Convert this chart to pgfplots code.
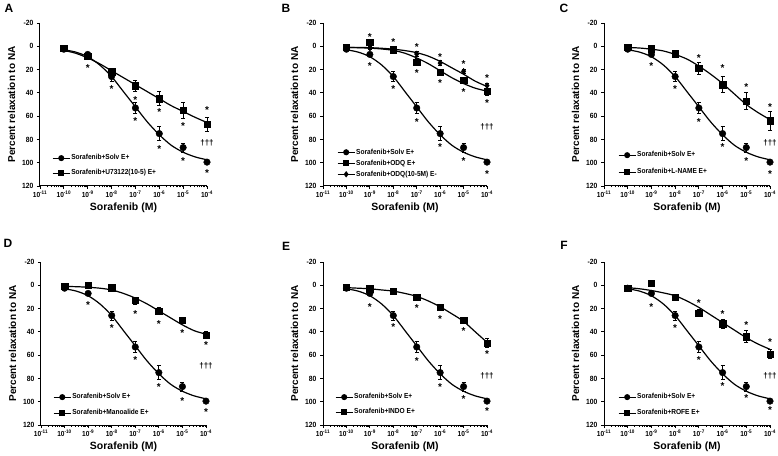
\documentclass[border=0pt]{standalone}
\usepackage{fontspec}
\setmainfont{Liberation Sans}
\newfontfamily\cf[FakeStretch=0.9]{Liberation Sans}
\usepackage{pgfplots}
\usepackage{pgfplotstable}
\pgfplotsset{compat=1.18}

% ---------- data ----------
\pgfplotstableread{
x y e
1e-10 2.5 1
1e-9 7 2
1e-8 26 4
1e-7 53 5
1e-6 75 6
1e-5 87 4
1e-4 99.5 1.5
}\solv
\pgfplotstableread{
x y
1e-10 3
3.16e-10 5
1e-9 9
3.16e-9 16
1e-8 26
3.16e-8 39
1e-7 52
3.16e-7 65
1e-6 76
3.16e-6 85
1e-5 91
3.16e-5 95
1e-4 97.5
}\solvfit
\pgfplotstableread{
x y e
1e-10 1.5 1
1e-9 8.5 1.5
1e-8 22 3
1e-7 34 5
1e-6 45 6
1e-5 55 7
1e-4 67 6
}\uA
\pgfplotstableread{
x y
1e-10 3.5
3.16e-10 6
1e-9 10
3.16e-9 15
1e-8 21
3.16e-8 27
1e-7 33
3.16e-7 39
1e-6 45
3.16e-6 51
1e-5 56
3.16e-5 61
1e-4 65.5
}\uAfit
\pgfplotstableread{
x y e
1e-10 0.6 1
1e-9 -3.4 1.5
1e-8 2.9 1.5
1e-7 13.8 3
1e-6 22.4 2.5
1e-5 29.3 2.5
1e-4 38.8 3
}\odq
\pgfplotstableread{
x y
1e-10 1
3.16e-10 1.2
1e-9 1.6
3.16e-9 2.3
1e-8 3.5
3.16e-8 6
1e-7 10
3.16e-7 15
1e-6 21
3.16e-6 27
1e-5 32
3.16e-5 36
1e-4 38.5
}\odqfit
\pgfplotstableread{
x y e
1e-10 1 1
1e-9 1.5 1
1e-8 3 1
1e-7 6.6 2
1e-6 14.4 2
1e-5 21.5 2
1e-4 33.8 2
}\odqm
\pgfplotstableread{
x y
1e-10 1
3.16e-10 1
1e-9 1.2
3.16e-9 1.7
1e-8 2.5
3.16e-8 3.7
1e-7 5.5
3.16e-7 8.5
1e-6 13
3.16e-6 18.5
1e-5 24
3.16e-5 30
1e-4 34.5
}\odqmfit
\pgfplotstableread{
x y e
1e-10 1 1
1e-9 2 1
1e-8 6.5 1.5
1e-7 19 5
1e-6 33 7
1e-5 47 7
1e-4 64 8
}\lname
\pgfplotstableread{
x y
1e-10 1
3.16e-10 1.5
1e-9 2.5
3.16e-9 4
1e-8 7
3.16e-8 11
1e-7 17
3.16e-7 24
1e-6 32
3.16e-6 41
1e-5 50
3.16e-5 57
1e-4 63
}\lnamefit
\pgfplotstableread{
x y e
1e-10 1 1
1e-9 0 1
1e-8 2 1.5
1e-7 13 3
1e-6 22 3
1e-5 30 2
1e-4 43 3
}\mano
\pgfplotstableread{
x y
1e-10 1
3.16e-10 1.2
1e-9 1.7
3.16e-9 2.5
1e-8 4
3.16e-8 7
1e-7 11
3.16e-7 16
1e-6 22
3.16e-6 28
1e-5 34
3.16e-5 39
1e-4 42
}\manofit
\pgfplotstableread{
x y e
1e-10 1.5 1
1e-9 3 1
1e-8 5 1
1e-7 10 2
1e-6 19 2
1e-5 30 2
1e-4 49.5 4
}\indo
\pgfplotstableread{
x y
1e-10 2
3.16e-10 2.5
1e-9 3
3.16e-9 4
1e-8 5
3.16e-8 7
1e-7 9.5
3.16e-7 13.5
1e-6 18.5
3.16e-6 24.5
1e-5 31
3.16e-5 40
1e-4 49
}\indofit
\pgfplotstableread{
x y e
1e-10 2.5 1
1e-9 -1.7 1
1e-8 10 2
1e-7 24 3
1e-6 33 4
1e-5 44 5
1e-4 59 4
}\rofe
\pgfplotstableread{
x y
1e-10 2
3.16e-10 3
1e-9 4.5
3.16e-9 6.5
1e-8 9
3.16e-8 13.5
1e-7 19
3.16e-7 25.5
1e-6 32
3.16e-6 38.5
1e-5 45
3.16e-5 50.5
1e-4 55
}\rofefit

\pgfplotsset{
  every axis/.append style={
    scale only axis, height=163pt,
    xmode=log, xmin=1e-11, xmax=1e-4,
    ymin=-20, ymax=120, y dir=reverse,
    axis x line*=bottom, axis y line*=left,
    xtick={1e-11,1e-10,1e-9,1e-8,1e-7,1e-6,1e-5,1e-4},
    xticklabels={10\textsuperscript{-11},10\textsuperscript{-10},10\textsuperscript{-9},10\textsuperscript{-8},10\textsuperscript{-7},10\textsuperscript{-6},10\textsuperscript{-5},10\textsuperscript{-4}},
    minor xtick={2e-11,3e-11,4e-11,5e-11,6e-11,7e-11,8e-11,9e-11,
      2e-10,3e-10,4e-10,5e-10,6e-10,7e-10,8e-10,9e-10,
      2e-9,3e-9,4e-9,5e-9,6e-9,7e-9,8e-9,9e-9,
      2e-8,3e-8,4e-8,5e-8,6e-8,7e-8,8e-8,9e-8,
      2e-7,3e-7,4e-7,5e-7,6e-7,7e-7,8e-7,9e-7,
      2e-6,3e-6,4e-6,5e-6,6e-6,7e-6,8e-6,9e-6,
      2e-5,3e-5,4e-5,5e-5,6e-5,7e-5,8e-5,9e-5},
    ytick={-20,0,20,40,60,80,100,120},
    yticklabels={-20,0,20,40,60,80,100,120},
    tick align=outside, major tick length=3pt, minor tick length=1.5pt,
    tick style={black, line width=0.8pt},
    axis line style={line width=1pt},
    x tick label style={font=\cf\bfseries\fontsize{7.3}{7.5}\selectfont, yshift=2pt},
    y tick label style={font=\cf\bfseries\fontsize{7.5}{7.5}\selectfont},
    clip=false,
    xlabel={Sorafenib (M)}, ylabel={Percent relaxation to NA},
    xlabel style={font=\bfseries\fontsize{10.5}{11}\selectfont, yshift=1.5pt},
    ylabel style={font=\bfseries\fontsize{10}{10}\selectfont},
    legend cell align=left,
    legend style={draw=none, fill=none, anchor=north west, inner sep=0pt,
      font=\cf\bfseries\fontsize{7.3}{7.5}\selectfont, row sep=6.6pt,
      nodes={inner sep=1pt, text height=5pt, text depth=1.4pt}},
  },
}

\begin{document}
\begin{tikzpicture}
\useasboundingbox (0pt,0pt) rectangle (778pt,455pt);

% ---------------- A ----------------
\begin{axis}[width=167pt, at={(40pt,269pt)}, anchor=south west,
  legend style={at={(0.072,0.198)}, row sep=6.6pt}]
\addlegendimage{black, line width=1pt, mark=*, mark size=2.5pt}\addlegendentry{Sorafenib+Solv E+}
\addlegendimage{black, line width=1pt, mark=square*, mark size=2.4pt}\addlegendentry{Sorafenib+U73122(10-5) E+}
\addplot[black, line width=1.2pt, smooth, mark=none, forget plot] table[x=x,y=y]{\solvfit};
\addplot[black, only marks, mark=*, mark size=3.3pt, forget plot, error bars/y dir=both, error bars/y explicit, error bars/error bar style={line width=0.8pt}, error bars/error mark options={rotate=90, mark size=2pt, line width=0.8pt}] table[x=x,y=y,y error=e]{\solv};
\addplot[black, line width=1.2pt, smooth, mark=none, forget plot] table[x=x,y=y]{\uAfit};
\addplot[black, only marks, mark=square*, mark size=3.2pt, forget plot, error bars/y dir=both, error bars/y explicit, error bars/error bar style={line width=0.8pt}, error bars/error mark options={rotate=90, mark size=2pt, line width=0.8pt}] table[x=x,y=y,y error=e]{\uA};
\addplot[draw=none, mark=none, forget plot, nodes near coords={*}, every node near coord/.append style={anchor=center, inner sep=0pt, font=\bfseries\fontsize{10}{10}\selectfont, yshift=-2.2pt}] coordinates {(1e-9,16.6) (1e-8,35) (1e-7,44) (1e-7,62) (1e-6,54.5) (1e-6,86) (1e-5,67) (1e-5,97) (1e-4,53) (1e-4,107)};
\addplot[draw=none, mark=none, forget plot, nodes near coords={†††}, every node near coord/.append style={anchor=center, inner sep=0pt, font=\bfseries\fontsize{8}{8}\selectfont}] coordinates {(1e-4,83)};
\end{axis}

% ---------------- B ----------------
\begin{axis}[width=164pt, at={(323pt,269pt)}, anchor=south west,
  legend style={at={(0.085,0.234)}, row sep=2.6pt}]
\addlegendimage{black, line width=1pt, mark=*, mark size=2.5pt}\addlegendentry{Sorafenib+Solv E+}
\addlegendimage{black, line width=1pt, mark=square*, mark size=2.4pt}\addlegendentry{Sorafenib+ODQ E+}
\addlegendimage{black, line width=1pt, mark=diamond*, mark size=2.4pt}\addlegendentry{Sorafenib+ODQ(10-5M) E-}
\addplot[black, line width=1.2pt, smooth, mark=none, forget plot] table[x=x,y=y]{\solvfit};
\addplot[black, only marks, mark=*, mark size=3.3pt, forget plot, error bars/y dir=both, error bars/y explicit, error bars/error bar style={line width=0.8pt}, error bars/error mark options={rotate=90, mark size=2pt, line width=0.8pt}] table[x=x,y=y,y error=e]{\solv};
\addplot[black, line width=1.2pt, smooth, mark=none, forget plot] table[x=x,y=y]{\odqfit};
\addplot[black, line width=1.2pt, smooth, mark=none, forget plot] table[x=x,y=y]{\odqmfit};
\addplot[black, only marks, mark=square*, mark size=3.2pt, forget plot, error bars/y dir=both, error bars/y explicit, error bars/error bar style={line width=0.8pt}, error bars/error mark options={rotate=90, mark size=2pt, line width=0.8pt}] table[x=x,y=y,y error=e]{\odq};
\addplot[black, only marks, mark=diamond*, mark size=3pt, forget plot, error bars/y dir=both, error bars/y explicit, error bars/error bar style={line width=0.8pt}, error bars/error mark options={rotate=90, mark size=2pt, line width=0.8pt}] table[x=x,y=y,y error=e]{\odqm};
\addplot[draw=none, mark=none, forget plot, nodes near coords={*}, every node near coord/.append style={anchor=center, inner sep=0pt, font=\bfseries\fontsize{10}{10}\selectfont, yshift=-2.2pt}] coordinates {(1e-9,-10) (1e-9,15) (1e-8,-5.7) (1e-8,34.5) (1e-7,-1.4) (1e-7,21.5) (1e-7,63) (1e-6,7.2) (1e-6,30) (1e-6,85) (1e-5,13.8) (1e-5,37.3) (1e-5,96.7) (1e-4,25.8) (1e-4,46.5) (1e-4,108)};
\addplot[draw=none, mark=none, forget plot, nodes near coords={†††}, every node near coord/.append style={anchor=center, inner sep=0pt, font=\bfseries\fontsize{8}{8}\selectfont}] coordinates {(1e-4,69)};
\end{axis}

% ---------------- C ----------------
\begin{axis}[width=166pt, at={(604pt,269pt)}, anchor=south west,
  legend style={at={(0.084,0.216)}, row sep=8.6pt}]
\addlegendimage{black, line width=1pt, mark=*, mark size=2.5pt}\addlegendentry{Sorafenib+Solv E+}
\addlegendimage{black, line width=1pt, mark=square*, mark size=2.4pt}\addlegendentry{Sorafenib+L-NAME E+}
\addplot[black, line width=1.2pt, smooth, mark=none, forget plot] table[x=x,y=y]{\solvfit};
\addplot[black, only marks, mark=*, mark size=3.3pt, forget plot, error bars/y dir=both, error bars/y explicit, error bars/error bar style={line width=0.8pt}, error bars/error mark options={rotate=90, mark size=2pt, line width=0.8pt}] table[x=x,y=y,y error=e]{\solv};
\addplot[black, line width=1.2pt, smooth, mark=none, forget plot] table[x=x,y=y]{\lnamefit};
\addplot[black, only marks, mark=square*, mark size=3.2pt, forget plot, error bars/y dir=both, error bars/y explicit, error bars/error bar style={line width=0.8pt}, error bars/error mark options={rotate=90, mark size=2pt, line width=0.8pt}] table[x=x,y=y,y error=e]{\lname};
\addplot[draw=none, mark=none, forget plot, nodes near coords={*}, every node near coord/.append style={anchor=center, inner sep=0pt, font=\bfseries\fontsize{10}{10}\selectfont, yshift=-2.2pt}] coordinates {(1e-9,15) (1e-8,35) (1e-7,8) (1e-7,63) (1e-6,17) (1e-6,85) (1e-5,33) (1e-5,97) (1e-4,50) (1e-4,108)};
\addplot[draw=none, mark=none, forget plot, nodes near coords={†††}, every node near coord/.append style={anchor=center, inner sep=0pt, font=\bfseries\fontsize{8}{8}\selectfont}] coordinates {(1e-4,83)};
\end{axis}

% ---------------- D ----------------
\begin{axis}[width=165pt, at={(41pt,30pt)}, anchor=south west,
  legend style={at={(0.073,0.198)}, row sep=7.6pt}]
\addlegendimage{black, line width=1pt, mark=*, mark size=2.5pt}\addlegendentry{Sorafenib+Solv E+}
\addlegendimage{black, line width=1pt, mark=square*, mark size=2.4pt}\addlegendentry{Sorafenib+Manoalide E+}
\addplot[black, line width=1.2pt, smooth, mark=none, forget plot] table[x=x,y=y]{\solvfit};
\addplot[black, only marks, mark=*, mark size=3.3pt, forget plot, error bars/y dir=both, error bars/y explicit, error bars/error bar style={line width=0.8pt}, error bars/error mark options={rotate=90, mark size=2pt, line width=0.8pt}] table[x=x,y=y,y error=e]{\solv};
\addplot[black, line width=1.2pt, smooth, mark=none, forget plot] table[x=x,y=y]{\manofit};
\addplot[black, only marks, mark=square*, mark size=3.2pt, forget plot, error bars/y dir=both, error bars/y explicit, error bars/error bar style={line width=0.8pt}, error bars/error mark options={rotate=90, mark size=2pt, line width=0.8pt}] table[x=x,y=y,y error=e]{\mano};
\addplot[draw=none, mark=none, forget plot, nodes near coords={*}, every node near coord/.append style={anchor=center, inner sep=0pt, font=\bfseries\fontsize{10}{10}\selectfont, yshift=-2.2pt}] coordinates {(1e-9,15) (1e-8,34.5) (1e-7,23) (1e-7,62) (1e-6,31) (1e-6,85.5) (1e-5,39.5) (1e-5,97.5) (1e-4,49.6) (1e-4,107)};
\addplot[draw=none, mark=none, forget plot, nodes near coords={†††}, every node near coord/.append style={anchor=center, inner sep=0pt, font=\bfseries\fontsize{8}{8}\selectfont}] coordinates {(1e-4,69)};
\end{axis}

% ---------------- E ----------------
\begin{axis}[width=164pt, at={(323pt,30pt)}, anchor=south west,
  legend style={at={(0.073,0.198)}, row sep=6.6pt}]
\addlegendimage{black, line width=1pt, mark=*, mark size=2.5pt}\addlegendentry{Sorafenib+Solv E+}
\addlegendimage{black, line width=1pt, mark=square*, mark size=2.4pt}\addlegendentry{Sorafenib+INDO E+}
\addplot[black, line width=1.2pt, smooth, mark=none, forget plot] table[x=x,y=y]{\solvfit};
\addplot[black, only marks, mark=*, mark size=3.3pt, forget plot, error bars/y dir=both, error bars/y explicit, error bars/error bar style={line width=0.8pt}, error bars/error mark options={rotate=90, mark size=2pt, line width=0.8pt}] table[x=x,y=y,y error=e]{\solv};
\addplot[black, line width=1.2pt, smooth, mark=none, forget plot] table[x=x,y=y]{\indofit};
\addplot[black, only marks, mark=square*, mark size=3.2pt, forget plot, error bars/y dir=both, error bars/y explicit, error bars/error bar style={line width=0.8pt}, error bars/error mark options={rotate=90, mark size=2pt, line width=0.8pt}] table[x=x,y=y,y error=e]{\indo};
\addplot[draw=none, mark=none, forget plot, nodes near coords={*}, every node near coord/.append style={anchor=center, inner sep=0pt, font=\bfseries\fontsize{10}{10}\selectfont, yshift=-2.2pt}] coordinates {(1e-9,16.6) (1e-8,34) (1e-7,17.5) (1e-7,63) (1e-6,26.7) (1e-6,85.5) (1e-5,37) (1e-5,96) (1e-4,57) (1e-4,106)};
\addplot[draw=none, mark=none, forget plot, nodes near coords={†††}, every node near coord/.append style={anchor=center, inner sep=0pt, font=\bfseries\fontsize{8}{8}\selectfont}] coordinates {(1e-4,78)};
\end{axis}

% ---------------- F ----------------
\begin{axis}[width=166pt, at={(604pt,30pt)}, anchor=south west,
  legend style={at={(0.084,0.198)}, row sep=7.6pt}]
\addlegendimage{black, line width=1pt, mark=*, mark size=2.5pt}\addlegendentry{Sorafenib+Solv E+}
\addlegendimage{black, line width=1pt, mark=square*, mark size=2.4pt}\addlegendentry{Sorafenib+ROFE E+}
\addplot[black, line width=1.2pt, smooth, mark=none, forget plot] table[x=x,y=y]{\solvfit};
\addplot[black, only marks, mark=*, mark size=3.3pt, forget plot, error bars/y dir=both, error bars/y explicit, error bars/error bar style={line width=0.8pt}, error bars/error mark options={rotate=90, mark size=2pt, line width=0.8pt}] table[x=x,y=y,y error=e]{\solv};
\addplot[black, line width=1.2pt, smooth, mark=none, forget plot] table[x=x,y=y]{\rofefit};
\addplot[black, only marks, mark=square*, mark size=3.2pt, forget plot, error bars/y dir=both, error bars/y explicit, error bars/error bar style={line width=0.8pt}, error bars/error mark options={rotate=90, mark size=2pt, line width=0.8pt}] table[x=x,y=y,y error=e]{\rofe};
\addplot[draw=none, mark=none, forget plot, nodes near coords={*}, every node near coord/.append style={anchor=center, inner sep=0pt, font=\bfseries\fontsize{10}{10}\selectfont, yshift=-2.2pt}] coordinates {(1e-9,16.6) (1e-8,35) (1e-7,13) (1e-7,62) (1e-6,23) (1e-6,85) (1e-5,32) (1e-5,95) (1e-4,47) (1e-4,105)};
\addplot[draw=none, mark=none, forget plot, nodes near coords={†††}, every node near coord/.append style={anchor=center, inner sep=0pt, font=\bfseries\fontsize{8}{8}\selectfont}] coordinates {(1e-4,78)};
\end{axis}

% panel letters
\begin{scope}[every node/.style={font=\bfseries\fontsize{12}{12}\selectfont, inner sep=0pt}]
\node at (9pt,446.5pt) {A};
\node at (286pt,447pt) {B};
\node at (564pt,447pt) {C};
\node at (8pt,212pt) {D};
\node at (286pt,209pt) {E};
\node at (564pt,210pt) {F};
\end{scope}
\end{tikzpicture}
\end{document}
